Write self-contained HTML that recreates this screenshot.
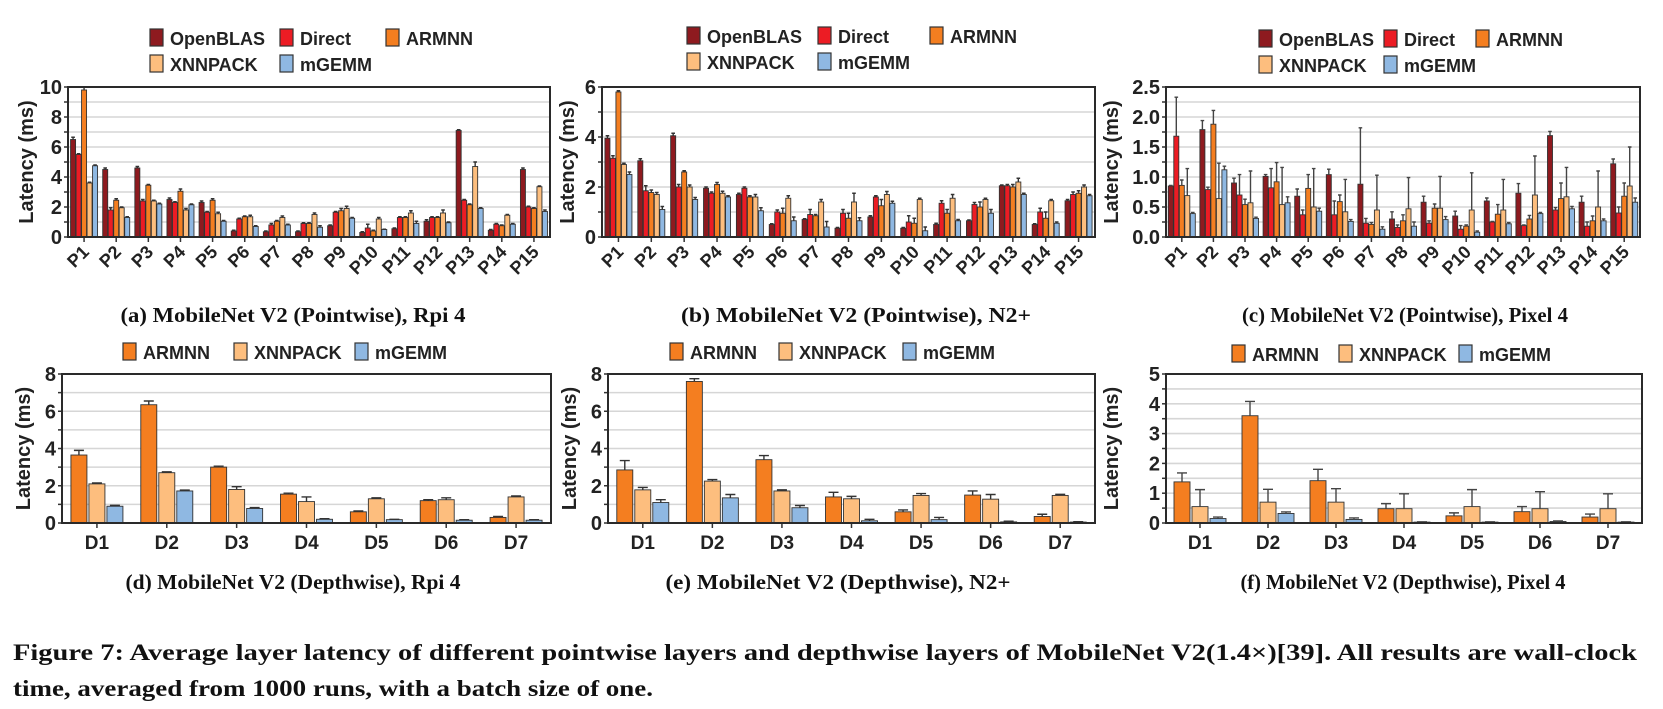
<!DOCTYPE html>
<html><head><meta charset="utf-8"><style>
html,body{margin:0;padding:0;background:#fff;}
svg{display:block;}
text{font-family:"Liberation Sans",Arial,sans-serif;font-weight:bold;fill:#222;}
.cap{font-family:"Liberation Serif","Times New Roman",serif;font-weight:bold;fill:#111;}
</style></head><body>
<svg id="fig" width="1663" height="709" viewBox="0 0 1663 709" xmlns="http://www.w3.org/2000/svg">
<text class="cap" x="293" y="322" font-size="21" text-anchor="middle" textLength="345" lengthAdjust="spacingAndGlyphs">(a) MobileNet V2 (Pointwise), Rpi 4</text>
<text class="cap" x="856" y="322" font-size="21" text-anchor="middle" textLength="350" lengthAdjust="spacingAndGlyphs">(b) MobileNet V2 (Pointwise), N2+</text>
<text class="cap" x="1405" y="322" font-size="21" text-anchor="middle" textLength="326" lengthAdjust="spacingAndGlyphs">(c) MobileNet V2 (Pointwise), Pixel 4</text>
<text class="cap" x="293" y="589" font-size="21" text-anchor="middle" textLength="335" lengthAdjust="spacingAndGlyphs">(d) MobileNet V2 (Depthwise), Rpi 4</text>
<text class="cap" x="838" y="589" font-size="21" text-anchor="middle" textLength="345" lengthAdjust="spacingAndGlyphs">(e) MobileNet V2 (Depthwise), N2+</text>
<text class="cap" x="1403" y="589" font-size="21" text-anchor="middle" textLength="325" lengthAdjust="spacingAndGlyphs">(f) MobileNet V2 (Depthwise), Pixel 4</text>
<text class="cap" x="13" y="660" font-size="23" textLength="1624" lengthAdjust="spacingAndGlyphs">Figure 7: Average layer latency of different pointwise layers and depthwise layers of MobileNet V2(1.4×)[39]. All results are wall-clock</text>
<text class="cap" x="13" y="696" font-size="23" textLength="640" lengthAdjust="spacingAndGlyphs">time, averaged from 1000 runs, with a batch size of one.</text>
</svg>
<script>
// ---- shared categories ----
const pCats = ["P1","P2","P3","P4","P5","P6","P7","P8","P9","P10","P11","P12","P13","P14","P15"];
const dCats = ["D1","D2","D3","D4","D5","D6","D7"];
const fiveNames = ["OpenBLAS","Direct","ARMNN","XNNPACK","mGEMM"];
const threeNames = ["ARMNN","XNNPACK","mGEMM"];

// ---- (a) Rpi 4 pointwise ----
const aOpenBLAS = [6.5,4.5,4.6,2.5,2.3,0.4,0.35,0.35,0.75,0.3,0.55,1.05,7.1,0.45,4.5];
const aDirect   = [5.5,1.8,2.4,2.3,1.65,1.2,0.8,0.9,1.65,0.6,1.3,1.3,2.45,0.85,2.0];
const aARMNN    = [9.8,2.45,3.45,3.05,2.45,1.35,1.05,0.9,1.75,0.4,1.3,1.3,2.15,0.75,1.9];
const aXNNPACK  = [3.6,1.95,2.4,1.8,1.55,1.35,1.3,1.5,1.9,1.2,1.6,1.6,4.7,1.45,3.35];
const aMGEMM    = [4.75,1.3,2.2,2.15,1.05,0.7,0.8,0.65,1.25,0.5,0.9,0.95,1.9,0.85,1.7];
const aErrO = [0.15,0.1,0.1,0.1,0.1,0.05,0.05,0.05,0.05,0.05,0.05,0.1,0.05,0.05,0.1];
const aErrD = [0.05,0.15,0.1,0.05,0.05,0.05,0.1,0.05,0.05,0.25,0.05,0.05,0.05,0.05,0.05];
const aErrA = [0.2,0.1,0.05,0.15,0.1,0.05,0.05,0.05,0.15,0.05,0.05,0.05,0.05,0.05,0.05];
const aErrX = [0.05,0.05,0.05,0.1,0.1,0.1,0.1,0.1,0.15,0.1,0.15,0.2,0.3,0.05,0.05];
const aErrM = [0.05,0.05,0.05,0.05,0.05,0.05,0.05,0.1,0.05,0.02,0.15,0.05,0.05,0.05,0.1];
const aTicks = [0,2,4,6,8,10];

// ---- (b) N2+ pointwise ----
const bOpenBLAS = [3.95,3.05,4.05,1.95,1.7,0.5,0.7,0.35,0.8,0.35,0.5,0.65,2.05,0.5,1.45];
const bDirect   = [3.15,1.85,2.0,1.75,1.95,1.0,0.9,0.95,1.6,0.6,1.35,1.3,2.05,1.0,1.7];
const bARMNN    = [5.8,1.78,2.6,2.1,1.6,0.95,0.85,0.75,1.25,0.55,0.95,1.2,2.0,0.75,1.75];
const bXNNPACK  = [2.9,1.7,2.0,1.75,1.6,1.55,1.4,1.4,1.7,1.5,1.55,1.5,2.2,1.45,2.0];
const bMGEMM    = [2.5,1.1,1.5,1.6,1.05,0.65,0.4,0.65,1.35,0.25,0.65,0.95,1.7,0.55,1.65];
const bErrO = [0.1,0.08,0.1,0.05,0.05,0.03,0.03,0.03,0.05,0.03,0.05,0.03,0.03,0.03,0.05];
const bErrD = [0.1,0.2,0.1,0.05,0.05,0.08,0.2,0.15,0.05,0.25,0.1,0.08,0.05,0.15,0.1];
const bErrA = [0.05,0.1,0.05,0.08,0.05,0.2,0.05,0.2,0.25,0.2,0.15,0.2,0.1,0.25,0.1];
const bErrX = [0.05,0.08,0.08,0.08,0.1,0.1,0.1,0.35,0.12,0.05,0.15,0.05,0.15,0.05,0.08];
const bErrM = [0.1,0.12,0.08,0.05,0.12,0.15,0.22,0.12,0.08,0.15,0.05,0.15,0.05,0.05,0.05];
const bTicks = [0,2,4,6];

// ---- (c) Pixel 4 pointwise ----
const cOpenBLAS = [0.85,1.79,0.9,1.01,0.68,1.04,0.88,0.3,0.58,0.35,0.6,0.73,1.69,0.58,1.22];
const cDirect   = [1.68,0.79,0.7,0.82,0.37,0.37,0.23,0.16,0.23,0.13,0.25,0.19,0.45,0.18,0.4];
const cARMNN    = [0.86,1.88,0.54,0.92,0.81,0.59,0.21,0.27,0.48,0.18,0.38,0.3,0.64,0.27,0.68];
const cXNNPACK  = [0.69,0.64,0.57,0.54,0.5,0.42,0.45,0.47,0.48,0.45,0.45,0.7,0.67,0.5,0.85];
const cMGEMM    = [0.39,1.12,0.31,0.57,0.43,0.26,0.13,0.18,0.29,0.08,0.22,0.39,0.47,0.27,0.58];
const cErrO = [0.01,0.15,0.08,0.03,0.12,0.09,0.94,0.12,0.1,0.08,0.05,0.16,0.07,0.1,0.08];
const cErrD = [0.65,0.04,0.34,0.32,0.08,0.23,0.08,0.04,0.04,0.06,0.01,0.01,0.04,0.07,0.1];
const cErrA = [0.09,0.23,0.09,0.32,0.23,0.11,0.03,0.1,0.07,0.02,0.16,0.06,0.26,0.08,0.22];
const cErrX = [0.45,0.59,0.53,0.62,0.64,0.54,0.58,0.52,0.53,0.62,0.51,0.65,0.49,0.6,0.65];
const cErrM = [0.02,0.06,0.02,0.1,0.05,0.03,0.04,0.07,0.05,0.02,0.02,0.02,0.04,0.03,0.07];
const cTicks = [0,0.5,1,1.5,2,2.5];

// ---- (d) Rpi 4 depthwise ----
const dARMNN   = [3.65,6.35,3.0,1.55,0.6,1.2,0.3];
const dXNNPACK = [2.1,2.7,1.8,1.15,1.3,1.25,1.4];
const dMGEMM   = [0.9,1.72,0.78,0.2,0.18,0.15,0.15];
const dErrA = [0.25,0.2,0.05,0.05,0.05,0.05,0.05];
const dErrX = [0.05,0.05,0.15,0.25,0.05,0.1,0.05];
const dErrM = [0.05,0.05,0.05,0.03,0.02,0.03,0.03];
const dTicks = [0,2,4,6,8];

// ---- (e) N2+ depthwise ----
const eARMNN   = [2.85,7.6,3.4,1.4,0.6,1.5,0.35];
const eXNNPACK = [1.78,2.25,1.72,1.3,1.48,1.28,1.48];
const eMGEMM   = [1.1,1.35,0.82,0.12,0.18,0.06,0.05];
const eErrA = [0.5,0.15,0.22,0.25,0.1,0.22,0.12];
const eErrX = [0.13,0.08,0.06,0.13,0.1,0.25,0.06];
const eErrM = [0.15,0.18,0.12,0.08,0.12,0.04,0.02];
const eTicks = [0,2,4,6,8];

// ---- (f) Pixel 4 depthwise ----
const fARMNN   = [1.38,3.6,1.42,0.48,0.24,0.38,0.2];
const fXNNPACK = [0.55,0.7,0.7,0.48,0.55,0.48,0.48];
const fMGEMM   = [0.15,0.32,0.12,0.03,0.03,0.05,0.03];
const fErrA = [0.3,0.48,0.38,0.17,0.1,0.17,0.1];
const fErrX = [0.57,0.43,0.45,0.5,0.57,0.57,0.5];
const fErrM = [0.05,0.05,0.05,0.01,0.01,0.02,0.01];
const fTicks = [0,1,2,3,4,5];

const C5 = ["#8e1a1f","#ec1c24","#f47e20","#fdbe7e","#8fb8e2"];
const C3 = ["#f47e20","#fdbe7e","#8fb8e2"];
const NS = "http://www.w3.org/2000/svg";
const fig = document.getElementById('fig');
function mk(tag, attrs, parent){const e=document.createElementNS(NS,tag);for(const k in attrs)e.setAttribute(k,attrs[k]);(parent||fig).appendChild(e);return e;}

function chart(o){
  const g = mk('g',{});
  
  
  const ys = v => o.y1 - v/o.max*(o.y1-o.y0);
  for(let v=o.grid; v<o.max-1e-9; v+=o.grid){
    const l = mk('line',{x1:o.x0,x2:o.x1,y1:ys(v),y2:ys(v),stroke:'#d6d6d6','stroke-width':1.6},g);
    
    
  }
  for(let v=0; v<=o.max+1e-9; v+=o.minor){
    const t = mk('line',{x1:o.x0-4,x2:o.x0,y1:ys(v),y2:ys(v),stroke:'#333','stroke-width':1.5},g);
    
    
  }
  o.ticks.forEach(v=>{
    const t = mk('text',{x:o.x0-6,y:ys(v)+7,'font-size':o.tfs,'text-anchor':'end'},g);
    
    
    t.textContent = o.fmt(v);
  });
  const yl = mk('text',{x:0,y:0,'font-size':o.lfs,'text-anchor':'middle',transform:`translate(${o.ylx},${(o.y0+o.y1)/2}) rotate(-90)`},g);
  
  
  yl.textContent='Latency (ms)';
  const n = o.cats.length, k = o.series.length, gw = (o.x1-o.x0)/n;
  const tot = k*o.bw + (k-1)*o.gap;
  o.cats.forEach((c,i)=>{
    const cx = o.x0 + gw*(i+0.5);
    o.series.forEach((s,j)=>{
      const bx = cx - tot/2 + j*(o.bw+o.gap);
      const v = s.vals[i], e = s.errs[i];
      const yt = ys(v);
      const r = mk('rect',{x:bx,y:yt,width:o.bw,height:o.y1-yt,fill:s.color,stroke:'#333','stroke-width':0.9},g);
      
      
      const ye = ys(v+e), mx = bx+o.bw/2;
      const el = mk('path',{d:`M${mx},${yt}V${ye}M${mx-o.cap},${ye}H${mx+o.cap}`,stroke:o.ec,'stroke-width':1.4,fill:'none'},g);
      
      
    });
    const tk = mk('line',{x1:cx,x2:cx,y1:o.y1,y2:o.y1+5,stroke:'#333','stroke-width':1.5},g);
    
    
    let t;
    if(o.rot){
      t = mk('text',{x:0,y:0,'font-size':o.xfs,'text-anchor':'end',transform:`translate(${cx+6},${o.y1+16}) rotate(-45)`},g);
    } else {
      t = mk('text',{x:cx,y:o.y1+26,'font-size':o.xfs,'text-anchor':'middle'},g);
    }
    
    
    t.textContent = c;
  });
  const f = mk('rect',{x:o.x0,y:o.y0,width:o.x1-o.x0,height:o.y1-o.y0,fill:'none',stroke:'#2a2a2a','stroke-width':2},g);
  
  
  o.legend.forEach(L=>{
    const sq = mk('rect',{x:L.x,y:L.y-9,width:13,height:17,fill:L.color,stroke:'#333','stroke-width':1.2},g);
    
    
    const lt = mk('text',{x:L.x+20,y:L.y+7,'font-size':18},g);
    
    
    lt.textContent = L.name;
  });
}
const f1 = v=>String(v), f2 = v=>v.toFixed(1);
function ser5(o,d,a,x,m,eo,ed,ea,ex,em){return [
 {name:'OpenBLAS',vals:o,errs:eo,color:C5[0]},{name:'Direct',vals:d,errs:ed,color:C5[1]},
 {name:'ARMNN',vals:a,errs:ea,color:C5[2]},{name:'XNNPACK',vals:x,errs:ex,color:C5[3]},{name:'mGEMM',vals:m,errs:em,color:C5[4]}];}
function ser3(a,x,m,ea,ex,em){return [
 {name:'ARMNN',vals:a,errs:ea,color:C3[0]},{name:'XNNPACK',vals:x,errs:ex,color:C3[1]},{name:'mGEMM',vals:m,errs:em,color:C3[2]}];}
function leg5(x1,x2,x3,y1,y2){return [
 {name:fiveNames[0],x:x1,y:y1,color:C5[0]},{name:fiveNames[1],x:x2,y:y1,color:C5[1]},{name:fiveNames[2],x:x3,y:y1,color:C5[2]},
 {name:fiveNames[3],x:x1,y:y2,color:C5[3]},{name:fiveNames[4],x:x2,y:y2,color:C5[4]}];}
function leg3(x1,x2,x3,y){return [
 {name:threeNames[0],x:x1,y:y,color:C3[0]},{name:threeNames[1],x:x2,y:y,color:C3[1]},{name:threeNames[2],x:x3,y:y,color:C3[2]}];}

const topCfg = {y0:87,y1:237,bw:5,gap:0.5,cap:1.8,rot:true,tfs:20,lfs:20,xfs:18,ec:'#333'};
chart(Object.assign({},topCfg,{name:'chart-a',x0:68,x1:550,max:10,grid:1,minor:1,ticks:aTicks,fmt:f1,ylx:33,cats:pCats,
  series:ser5(aOpenBLAS,aDirect,aARMNN,aXNNPACK,aMGEMM,aErrO,aErrD,aErrA,aErrX,aErrM),legend:leg5(150,280,386,38,64)}));
chart(Object.assign({},topCfg,{name:'chart-b',x0:602,x1:1095,max:6,grid:1,minor:1,ticks:bTicks,fmt:f1,ylx:574,cats:pCats,
  series:ser5(bOpenBLAS,bDirect,bARMNN,bXNNPACK,bMGEMM,bErrO,bErrD,bErrA,bErrX,bErrM),legend:leg5(687,818,930,36,62)}));
chart(Object.assign({},topCfg,{name:'chart-c',x0:1166,x1:1640,max:2.5,grid:0.25,minor:0.25,ticks:cTicks,fmt:f2,ylx:1118,cats:pCats,ec:'#444',
  series:ser5(cOpenBLAS,cDirect,cARMNN,cXNNPACK,cMGEMM,cErrO,cErrD,cErrA,cErrX,cErrM),legend:leg5(1259,1384,1476,39,65)}));
const botCfg = {y0:374,y1:523,bw:16,gap:2,cap:5,rot:false,tfs:20,lfs:20,xfs:19,ec:'#333'};
chart(Object.assign({},botCfg,{name:'chart-d',x0:62,x1:551,max:8,grid:1,minor:1,ticks:dTicks,fmt:f1,ylx:30,cats:dCats,
  series:ser3(dARMNN,dXNNPACK,dMGEMM,dErrA,dErrX,dErrM),legend:leg3(123,234,355,352)}));
chart(Object.assign({},botCfg,{name:'chart-e',x0:608,x1:1095,max:8,grid:1,minor:1,ticks:eTicks,fmt:f1,ylx:576,cats:dCats,
  series:ser3(eARMNN,eXNNPACK,eMGEMM,eErrA,eErrX,eErrM),legend:leg3(670,779,903,352)}));
chart(Object.assign({},botCfg,{name:'chart-f',x0:1166,x1:1642,max:5,grid:0.5,minor:0.5,ticks:fTicks,fmt:f1,ylx:1118,cats:dCats,ec:'#444',
  series:ser3(fARMNN,fXNNPACK,fMGEMM,fErrA,fErrX,fErrM),legend:leg3(1232,1339,1459,354)}));
</script>
</body></html>
